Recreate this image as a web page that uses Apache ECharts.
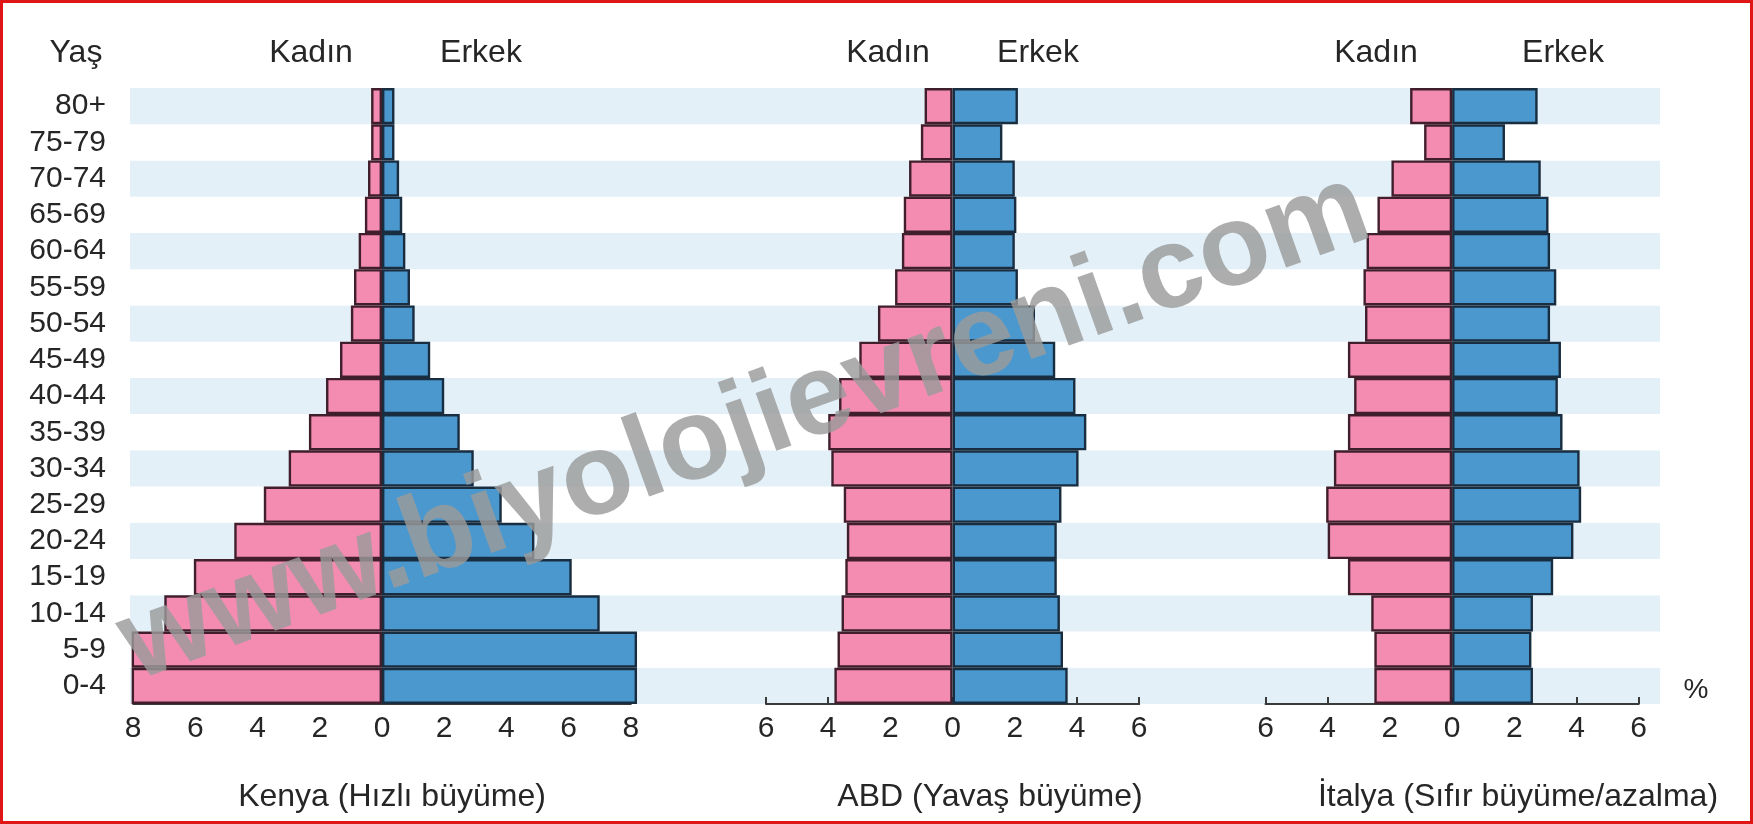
<!DOCTYPE html>
<html>
<head>
<meta charset="utf-8">
<title>Nüfus piramitleri</title>
<script src="https://cdn.jsdelivr.net/npm/echarts@6/dist/echarts.min.js"></script>
<style>
  html, body { margin: 0; padding: 0; background: #fff; }
  #chart { width: 1753px; height: 824px; }
</style>
</head>
<body>
<div id="chart"></div>
<script>
// yaş grupları (alttan üste)
const ageGroups = ['0-4', '5-9', '10-14', '15-19', '20-24', '25-29', '30-34', '35-39',
  '40-44', '45-49', '50-54', '55-59', '60-64', '65-69', '70-74', '75-79', '80+'];

// Kenya (%)
const kenyaKadin = [8.05, 8.05, 7.0, 6.05, 4.75, 3.8, 3.0, 2.35, 1.8, 1.35, 1.0, 0.9, 0.75, 0.55, 0.45, 0.35, 0.35];
const kenyaErkek = [8.2, 8.2, 7.0, 6.1, 4.9, 3.85, 2.95, 2.5, 2.0, 1.55, 1.05, 0.9, 0.75, 0.65, 0.55, 0.4, 0.4];

// ABD (%)
const abdKadin = [3.8, 3.7, 3.57, 3.45, 3.4, 3.5, 3.9, 4.0, 3.65, 3.0, 2.4, 1.85, 1.63, 1.57, 1.4, 1.02, 0.9];
const abdErkek = [3.7, 3.55, 3.45, 3.35, 3.35, 3.5, 4.05, 4.3, 3.95, 3.3, 2.65, 2.1, 2.0, 2.05, 2.0, 1.6, 2.1];

// İtalya (%)
const italyaKadin = [2.5, 2.5, 2.6, 3.35, 4.0, 4.05, 3.8, 3.35, 3.15, 3.35, 2.8, 2.85, 2.75, 2.4, 1.95, 0.9, 1.35];
const italyaErkek = [2.6, 2.55, 2.6, 3.25, 3.9, 4.15, 4.1, 3.55, 3.4, 3.5, 3.15, 3.35, 3.15, 3.1, 2.85, 1.7, 2.75];

const FONT = '"Liberation Sans", Arial, sans-serif';
const TEXT_COLOR = '#262626';
const PINK = '#f48cb2';
const BLUE = '#4b98ce';
const PINK_BORDER = '#401e2c';
const BLUE_BORDER = '#192d40';

const chartDom = document.getElementById('chart');
const chart = echarts.init(chartDom);

const plotTop = 88;
const plotH = 616;

function pyramidX(gridIndex, max) {
  return {
    type: 'value',
    gridIndex: gridIndex,
    min: -max,
    max: max,
    interval: 2,
    axisLine: { show: true, onZero: false, lineStyle: { color: '#3a3a3a', width: 2 } },
    axisTick: { show: true, inside: true, length: 7, lineStyle: { color: '#3a3a3a', width: 2 } },
    axisLabel: {
      fontFamily: FONT,
      fontSize: 30,
      color: TEXT_COLOR,
      margin: 10,
      formatter: v => Math.abs(v)
    },
    splitLine: { show: false }
  };
}

function pyramidY(gridIndex) {
  return {
    type: 'category',
    gridIndex: gridIndex,
    data: ageGroups,
    show: false
  };
}

function barSeries(idx, stack, data, color, border) {
  return {
    type: 'bar',
    xAxisIndex: idx,
    yAxisIndex: idx,
    stack: stack,
    barCategoryGap: '0%',
    clip: false, // Kenya'da en alttaki çubuklar 8'in biraz dışına taşıyor
    data: data,
    itemStyle: { color: color, borderColor: border, borderWidth: 2.4 },
    emphasis: { disabled: true },
    z: 3
  };
}

const neg = arr => arr.map(v => -v);

function text(x, y, str, size, align) {
  return {
    type: 'text',
    x: x,
    y: y,
    z: 50,
    style: {
      text: str,
      fontFamily: FONT,
      fontSize: size,
      fill: TEXT_COLOR,
      textAlign: align || 'center',
      textVerticalAlign: 'middle'
    }
  };
}

const option = {
  backgroundColor: '#ffffff',
  animation: false,
  grid: [
    { left: 130, top: plotTop, width: 1530, height: plotH },   // arka plan şeritleri
    { left: 133.2, top: plotTop, width: 497.6, height: plotH }, // Kenya
    { left: 766, top: plotTop, width: 373.2, height: plotH },   // ABD
    { left: 1265.5, top: plotTop, width: 373.2, height: plotH } // İtalya
  ],
  xAxis: [
    { type: 'value', gridIndex: 0, min: 0, max: 1, show: false },
    pyramidX(1, 8),
    pyramidX(2, 6),
    pyramidX(3, 6)
  ],
  yAxis: [
    {
      type: 'category',
      gridIndex: 0,
      data: ageGroups,
      axisLine: { show: false },
      axisTick: { show: false },
      axisLabel: { interval: 0, fontFamily: FONT, fontSize: 30, color: TEXT_COLOR, margin: 24 },
      splitLine: { show: false },
      splitArea: { show: true, interval: 0, areaStyle: { color: ['#e3f0f8', '#ffffff'] } }
    },
    pyramidY(1),
    pyramidY(2),
    pyramidY(3)
  ],
  series: [
    barSeries(1, 'kenya', neg(kenyaKadin), PINK, PINK_BORDER),
    barSeries(1, 'kenya', kenyaErkek, BLUE, BLUE_BORDER),
    barSeries(2, 'abd', neg(abdKadin), PINK, PINK_BORDER),
    barSeries(2, 'abd', abdErkek, BLUE, BLUE_BORDER),
    barSeries(3, 'italya', neg(italyaKadin), PINK, PINK_BORDER),
    barSeries(3, 'italya', italyaErkek, BLUE, BLUE_BORDER)
  ],
  graphic: [
    text(76, 53, 'Yaş', 32),
    text(311, 53, 'Kadın', 32),
    text(481, 53, 'Erkek', 32),
    text(888, 53, 'Kadın', 32),
    text(1038, 53, 'Erkek', 32),
    text(1376, 53, 'Kadın', 32),
    text(1563, 53, 'Erkek', 32),
    text(392, 797, 'Kenya (Hızlı büyüme)', 32),
    text(990, 797, 'ABD (Yavaş büyüme)', 32),
    text(1518, 797, 'İtalya (Sıfır büyüme/azalma)', 32),
    text(1696, 690, '%', 28),
    {
      type: 'text',
      x: 745,
      y: 428,
      rotation: 0.345,
      z: 100,
      style: {
        text: 'www.biyolojievreni.com',
        fontFamily: FONT,
        fontWeight: 'bold',
        fontSize: 116,
        fill: 'rgba(155,155,155,0.82)',
        textAlign: 'center',
        textVerticalAlign: 'middle'
      }
    },
    {
      type: 'rect',
      z: 200,
      shape: { x: 1.5, y: 1.5, width: 1750, height: 821 },
      style: { fill: 'none', stroke: '#e01515', lineWidth: 3 }
    }
  ]
};

chart.setOption(option);
</script>
</body>
</html>
